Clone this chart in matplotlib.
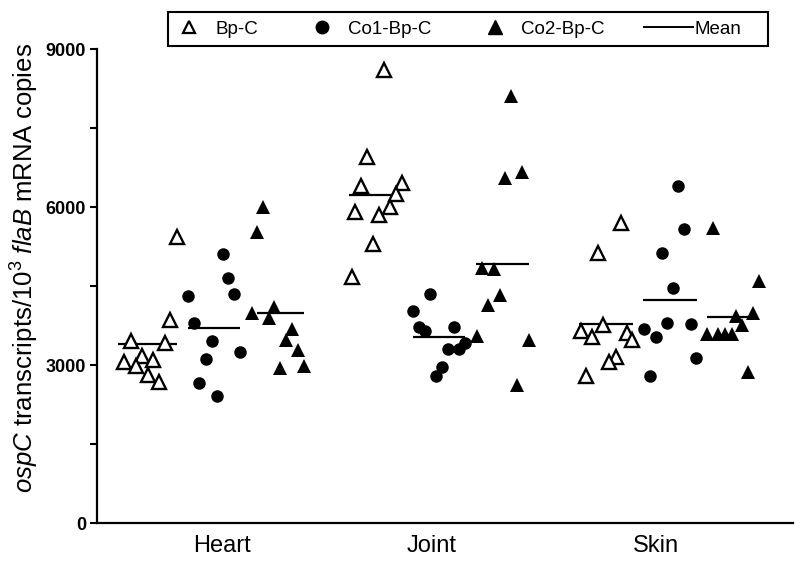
import matplotlib
matplotlib.use("Agg")
import matplotlib.pyplot as plt
import numpy as np
from matplotlib.lines import Line2D
from matplotlib.patches import Rectangle

plt.rcParams['font.family'] = ['Liberation Sans', 'DejaVu Sans']
plt.rcParams['mathtext.fontset'] = 'custom'
plt.rcParams['mathtext.rm'] = 'Liberation Sans'
plt.rcParams['mathtext.it'] = 'Liberation Sans:italic'

# tissues on the x axis
tissues = ['Heart', 'Joint', 'Skin']
tissue_x = [1.25, 3.35, 5.59]

# ospC transcripts per 10^3 flaB copies, one list per tissue (Heart, Joint, Skin)
bpc_values = [
    [5436, 3854, 3461, 3423, 3171, 3063, 3095, 2981, 2810, 2683],
    [8601, 6943, 6398, 6461, 6246, 5911, 5994, 5848, 5291, 4676],
    [5702, 5120, 3759, 3651, 3526, 3613, 3474, 3158, 3051, 2797],
]
co1_values = [
    [5107, 4657, 4342, 4310, 3791, 3461, 3253, 3114, 2652, 2411],
    [4342, 4031, 3727, 3645, 3716, 3423, 3304, 3304, 2968, 2797],
    [6398, 5582, 5120, 4456, 3791, 3778, 3677, 3537, 3139, 2797],
]
co2_values = [
    [6006, 5531, 3993, 4107, 3886, 3683, 3474, 3285, 2937, 2981],
    [8107, 6544, 6670, 4847, 4817, 4329, 4139, 3556, 3474, 2620],
    [5595, 4600, 3993, 3930, 3759, 3588, 3588, 3588, 3588, 2861],
]

# horizontal scatter of each point (same order as values)
bpc_x = [
    [0.80, 0.73, 0.34, 0.68, 0.45, 0.27, 0.56, 0.39, 0.51, 0.62],
    [2.87, 2.70, 2.64, 3.05, 2.99, 2.58, 2.93, 2.82, 2.76, 2.55],
    [5.24, 5.01, 5.06, 4.84, 4.95, 5.30, 5.35, 5.19, 5.12, 4.89],
]
co1_x = [
    [1.26, 1.31, 1.37, 0.91, 0.97, 1.15, 1.43, 1.09, 1.02, 1.20],
    [3.33, 3.16, 3.22, 3.28, 3.57, 3.68, 3.51, 3.62, 3.45, 3.39],
    [5.81, 5.87, 5.65, 5.76, 5.70, 5.94, 5.47, 5.59, 5.99, 5.53],
]
co2_x = [
    [1.66, 1.60, 1.55, 1.77, 1.72, 1.95, 1.89, 2.01, 1.83, 2.07],
    [4.14, 4.08, 4.25, 3.85, 3.97, 4.03, 3.91, 3.80, 4.32, 4.20],
    [6.16, 6.62, 6.56, 6.39, 6.45, 6.10, 6.21, 6.28, 6.35, 6.51],
]

# extent of the mean bars
bpc_mean_span = [(0.21, 0.80), (2.52, 2.96), (4.82, 5.36)]
co1_mean_span = [(0.91, 1.43), (3.16, 3.68), (5.46, 6.00)]
co2_mean_span = [(1.60, 2.07), (3.79, 4.32), (6.10, 6.51)]

fig = plt.figure(figsize=(8, 5.63), dpi=100)
ax = fig.add_axes([97 / 800, 40 / 563, 696 / 800, 474 / 563])

styles = [
    (bpc_values, bpc_x, bpc_mean_span, dict(marker='^', mfc='white', mec='black', mew=1.7, ms=9.5)),
    (co1_values, co1_x, co1_mean_span, dict(marker='o', mfc='black', mec='black', mew=0, ms=9)),
    (co2_values, co2_x, co2_mean_span, dict(marker='^', mfc='black', mec='black', mew=0, ms=10.5)),
]

for values, xs, spans, st in styles:
    for vals, x, span in zip(values, xs, spans):
        ax.plot(x, vals, linestyle='none', zorder=3, **st)
        ax.hlines(np.mean(vals), span[0], span[1], color='black', lw=1.6, zorder=2)

ax.set_xlim(0, 6.96)
ax.set_ylim(0, 9000)
ax.set_yticks([0, 3000, 6000, 9000])
ax.set_yticks([1500, 4500, 7500], minor=True)
ax.set_xticks(tissue_x)
ax.set_xticklabels(tissues, fontsize=17)
ax.tick_params(axis='x', length=0, pad=9)
ax.tick_params(axis='y', which='both', direction='out', length=5, width=1.5, pad=3)
for lab in ax.get_yticklabels():
    lab.set_fontweight('bold')
    lab.set_fontsize(13)

for s in ['top', 'right']:
    ax.spines[s].set_visible(False)
for s in ['left', 'bottom']:
    ax.spines[s].set_linewidth(1.6)

ax.set_ylabel(r'$\mathit{ospC}$ transcripts/10$^{3}$ $\mathit{flaB}$ mRNA copies', fontsize=18.5)
ax.yaxis.set_label_coords(-0.081, 0.539)

handles = [
    Line2D([], [], linestyle='none', marker='^', mfc='white', mec='black', mew=1.6, ms=9),
    Line2D([], [], linestyle='none', marker='o', mfc='black', mec='black', ms=9),
    Line2D([], [], linestyle='none', marker='^', mfc='black', mec='black', ms=10),
    Line2D([], [], color='black', lw=1.4),
]
labels = ['Bp-C', 'Co1-Bp-C', 'Co2-Bp-C', 'Mean']
fig.legend(handles, labels, ncol=4, loc='center left',
           bbox_to_anchor=(164.6 / 800, 1 - 29 / 563),
           fontsize=13.5, handlelength=2.6, handletextpad=0.1, columnspacing=2.1,
           borderpad=0, borderaxespad=0, frameon=False)
# legend box
fig.add_artist(Rectangle((168 / 800, 1 - 46 / 563), 600 / 800, 34 / 563,
                         transform=fig.transFigure, fill=False, ec='black', lw=1.5))

fig.savefig('out.png', dpi=100)
